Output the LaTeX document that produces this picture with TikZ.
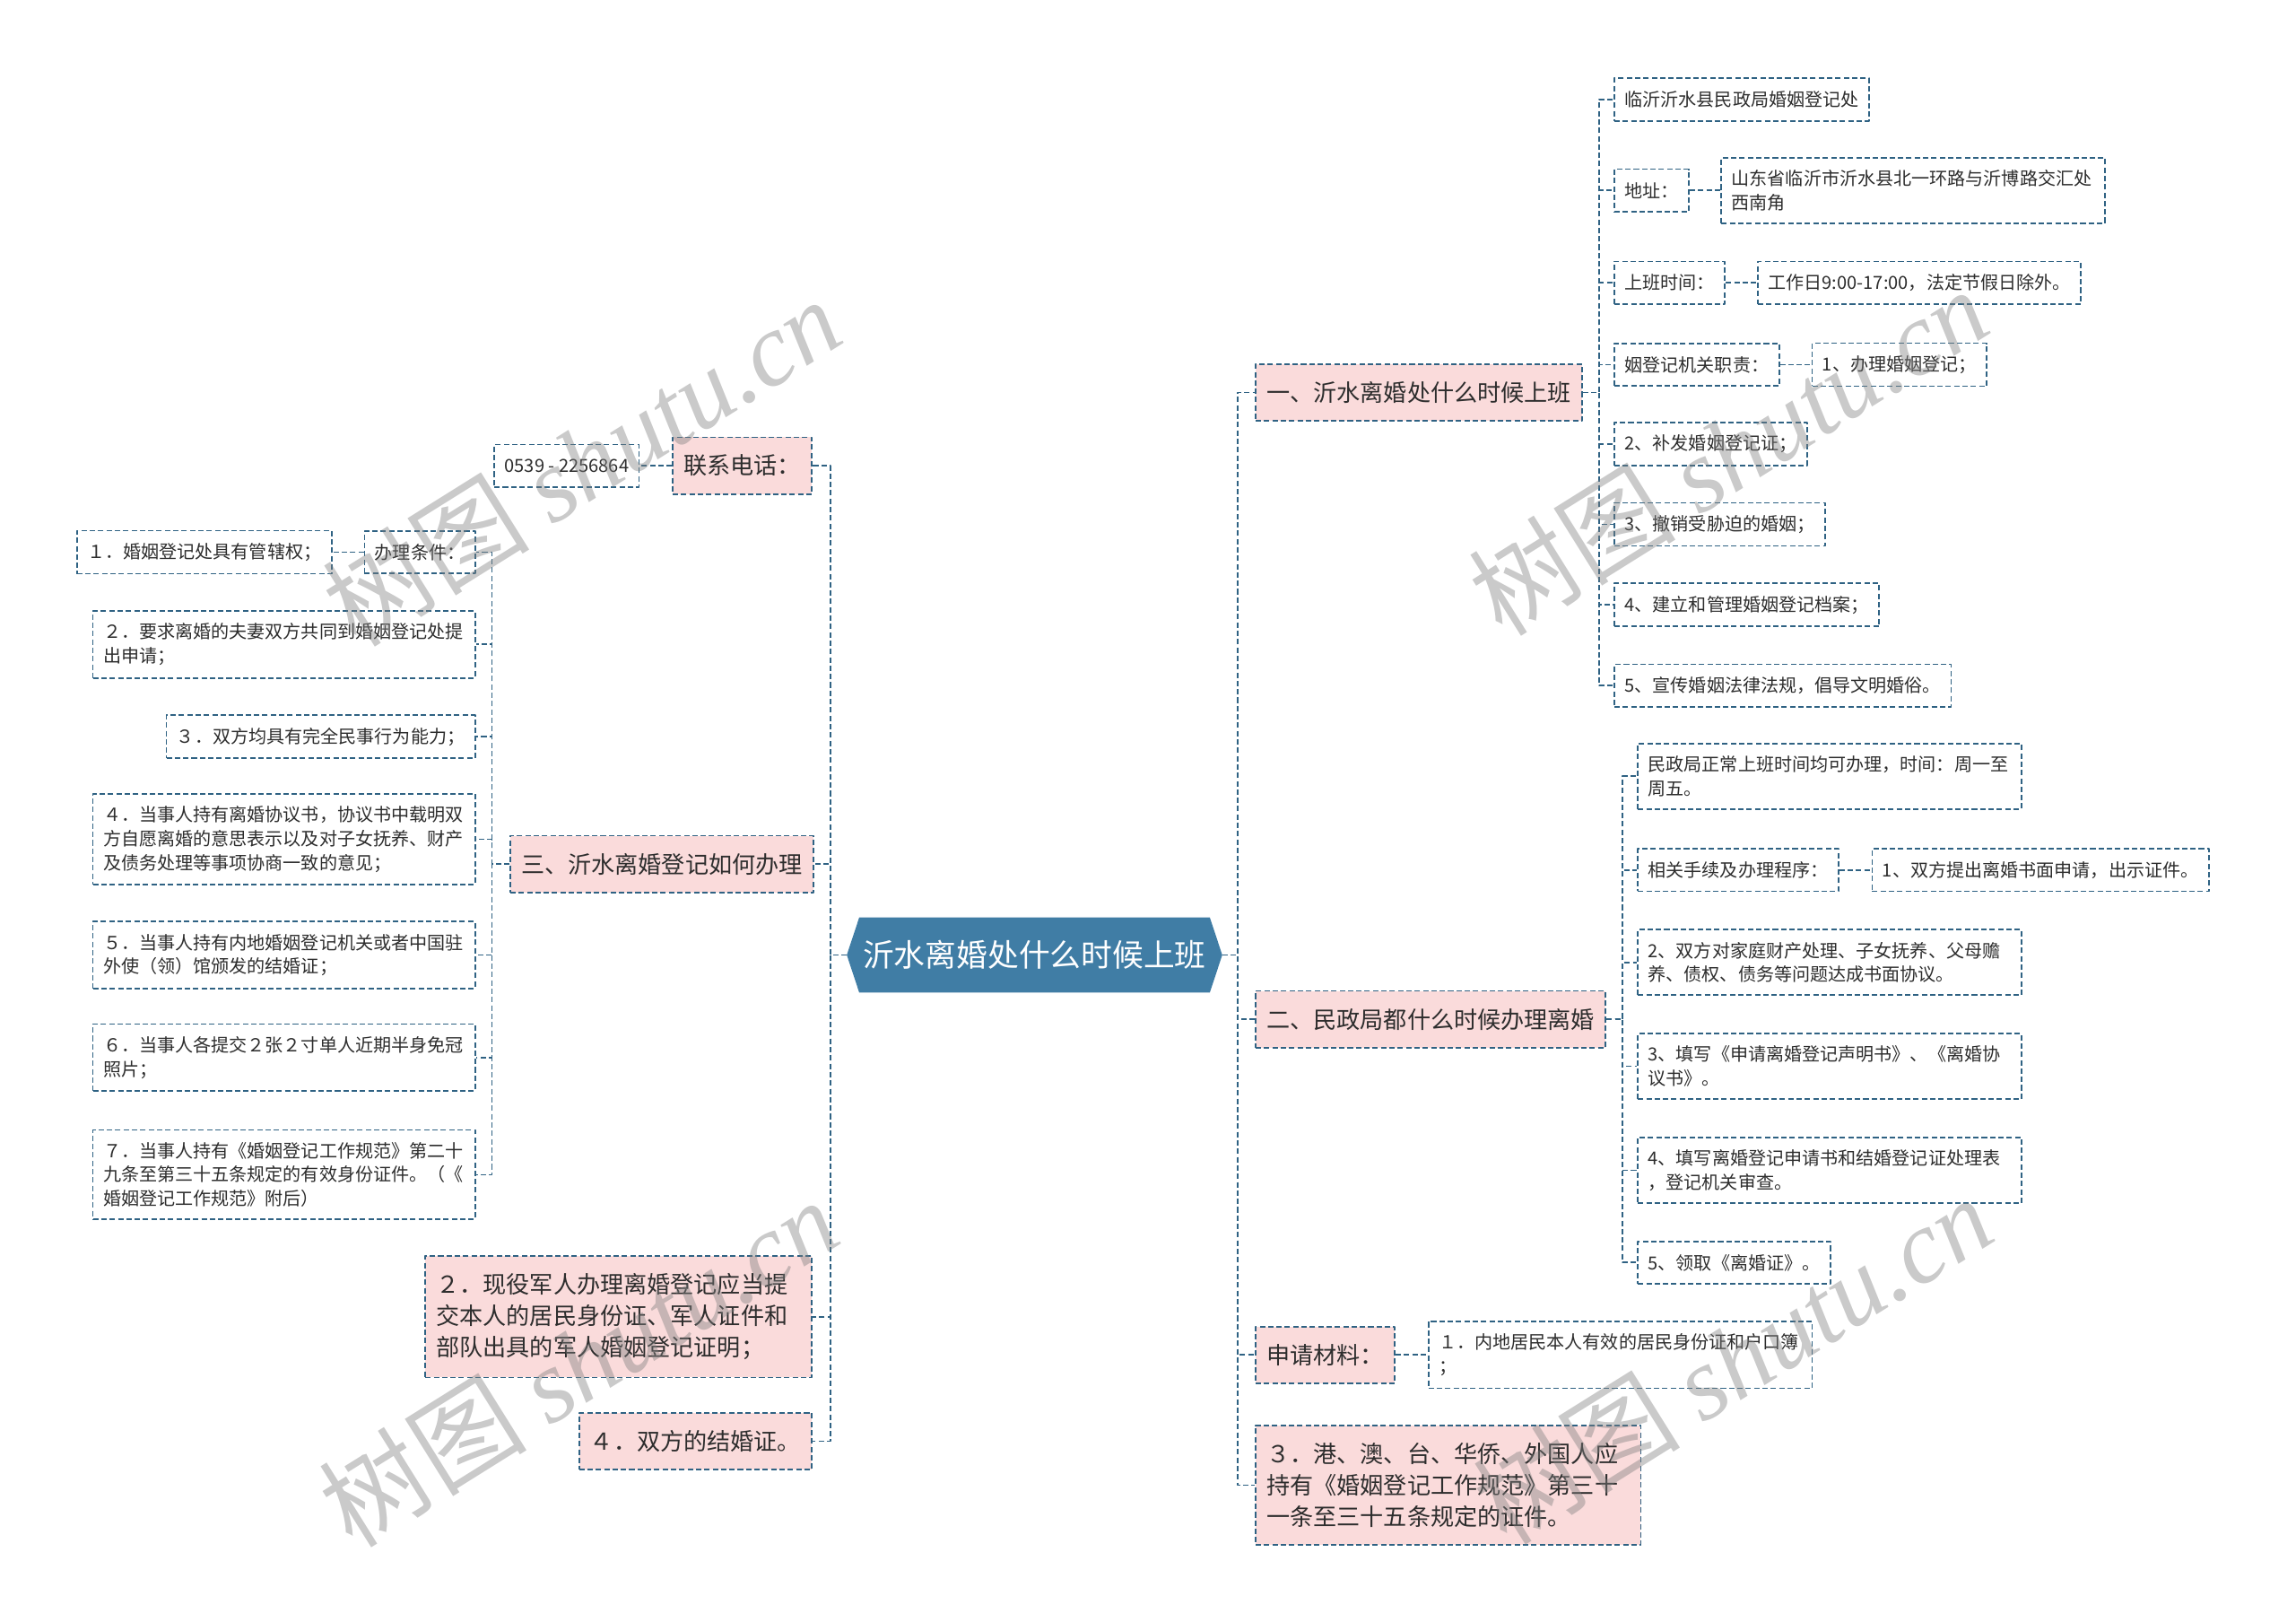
\documentclass[tikz,border=0pt]{standalone}
\usepackage{fontspec}
\setmainfont{Noto Sans CJK SC}
\newfontfamily\wmserif{Liberation Serif}
\usetikzlibrary{backgrounds}
\definecolor{linec}{RGB}{47,98,131}
\definecolor{rootc}{RGB}{64,125,165}
\definecolor{pinkc}{RGB}{250,219,219}
\definecolor{txtc}{RGB}{45,45,45}
\tikzset{
	box/.style={draw=linec, line width=1.1pt, dash pattern=on 3.7pt off 2pt, text=txtc, inner xsep=7pt, inner ysep=8.5pt, align=left},
	leaf/.style={box, font=\fontsize{12.3}{16.3}\selectfont, minimum height=29pt},
	topic/.style={box, fill=pinkc, font=\fontsize{16}{21.4}\selectfont, inner xsep=7.5pt, inner ysep=12pt, minimum height=38pt},
	link/.style={draw=linec, line width=1.1pt, dash pattern=on 3.7pt off 2pt},
	wmtext/.style={text=gray, opacity=0.42, rotate=32, font=\fontsize{71}{71}\selectfont},
}
\begin{document}
\begin{tikzpicture}[x=1pt, y=-1pt, line join=round]
\useasboundingbox (0,0) rectangle (1568,1107);
\node[text=white, font=\fontsize{21.3}{25}\selectfont, minimum width=256pt, minimum height=51pt, inner sep=0pt] (root) at (706.5,652) {沂水离婚处什么时候上班};
\begin{scope}[on background layer]
	\fill[rootc] (root.west) -- ([xshift=8.5pt]root.north west) -- ([xshift=-8.5pt]root.north east) -- (root.east) -- ([xshift=-8.5pt]root.south east) -- ([xshift=8.5pt]root.south west) -- cycle;
\end{scope}
\coordinate (sr) at (845,0);
\coordinate (s1) at (1092,0);
\coordinate (s2) at (1108,0);
\coordinate (sl) at (567,0);
\coordinate (s3) at (336,0);
			\node[topic, anchor=west] (r1) at (857,268) {一、沂水离婚处什么时候上班};
			\node[topic, anchor=west] (r2) at (857,696) {二、民政局都什么时候办理离婚};
			\node[topic, anchor=west] (r3) at (857,925) {申请材料：};
			\node[topic, anchor=west, text width=248pt] (r4) at (857,1014) {３．港、澳、台、华侨、外国人应\\持有《婚姻登记工作规范》第三十\\一条至三十五条规定的证件。};
			\node[leaf, anchor=west] (a1) at (1102,68) {临沂沂水县民政局婚姻登记处};
			\node[leaf, anchor=west] (a2) at (1102,130) {地址：};
			\node[leaf, anchor=west, text width=248pt] (a2x) at (1175,130) {山东省临沂市沂水县北一环路与沂博路交汇处\\西南角};
			\node[leaf, anchor=west] (a3) at (1102,193) {上班时间：};
			\node[leaf, anchor=west] (a3x) at (1200,193) {工作日9:00-17:00，法定节假日除外。};
			\node[leaf, anchor=west] (a4) at (1102,249) {姻登记机关职责：};
			\node[leaf, anchor=west] (a4x) at (1237,249) {1、办理婚姻登记；};
			\node[leaf, anchor=west] (a5) at (1102,303) {2、补发婚姻登记证；};
			\node[leaf, anchor=west] (a6) at (1102,358) {3、撤销受胁迫的婚姻；};
			\node[leaf, anchor=west] (a7) at (1102,413) {4、建立和管理婚姻登记档案；};
			\node[leaf, anchor=west] (a8) at (1102,468) {5、宣传婚姻法律法规，倡导文明婚俗。};
			\node[leaf, anchor=west, text width=248pt] (b1) at (1118,530) {民政局正常上班时间均可办理，时间：周一至\\周五。};
			\node[leaf, anchor=west] (b2) at (1118,594) {相关手续及办理程序：};
			\node[leaf, anchor=west] (b2x) at (1278,594) {1、双方提出离婚书面申请，出示证件。};
			\node[leaf, anchor=west, text width=248pt] (b3) at (1118,657) {2、双方对家庭财产处理、子女抚养、父母赡\\养、债权、债务等问题达成书面协议。};
			\node[leaf, anchor=west, text width=248pt] (b4) at (1118,728) {3、填写《申请离婚登记声明书》、《离婚协\\议书》。};
			\node[leaf, anchor=west, text width=248pt] (b5) at (1118,799) {4、填写离婚登记申请书和结婚登记证处理表\\，登记机关审查。};
			\node[leaf, anchor=west] (b6) at (1118,862) {5、领取《离婚证》。};
			\node[leaf, anchor=west, text width=248pt] (c1) at (975,925) {１．内地居民本人有效的居民身份证和户口簿\\；};
			\node[topic, anchor=east] (l1) at (555,318) {联系电话：};
			\node[leaf, anchor=east] (l1x) at (437,318) {0539 - 2256864};
			\node[topic, anchor=east] (l2) at (556,590) {三、沂水离婚登记如何办理};
			\node[topic, anchor=east, text width=249pt] (l3) at (555,899) {２．现役军人办理离婚登记应当提\\交本人的居民身份证、军人证件和\\部队出具的军人婚姻登记证明；};
			\node[topic, anchor=east] (l4) at (555,984) {４．双方的结婚证。};
			\node[leaf, anchor=east] (d1) at (325,377) {办理条件：};
			\node[leaf, anchor=east] (d1x) at (227,377) {１．婚姻登记处具有管辖权；};
			\node[leaf, anchor=east, text width=247pt] (d2) at (325,440) {２．要求离婚的夫妻双方共同到婚姻登记处提\\出申请；};
			\node[leaf, anchor=east] (d3) at (325,503) {３．双方均具有完全民事行为能力；};
			\node[leaf, anchor=east, text width=247pt] (d4) at (325,573) {４．当事人持有离婚协议书，协议书中载明双\\方自愿离婚的意思表示以及对子女抚养、财产\\及债务处理等事项协商一致的意见；};
			\node[leaf, anchor=east, text width=247pt] (d5) at (325,652) {５．当事人持有内地婚姻登记机关或者中国驻\\外使（领）馆颁发的结婚证；};
			\node[leaf, anchor=east, text width=247pt] (d6) at (325,722) {６．当事人各提交２张２寸单人近期半身免冠\\照片；};
			\node[leaf, anchor=east, text width=247pt] (d7) at (325,802) {７．当事人持有《婚姻登记工作规范》第二十\\九条至第三十五条规定的有效身份证件。（《\\婚姻登记工作规范》附后）};
\draw[link] (root.east) -- (root.east -| sr) |- (r1.west);
\draw[link] (root.east) -- (root.east -| sr) |- (r2.west);
\draw[link] (root.east) -- (root.east -| sr) |- (r3.west);
\draw[link] (root.east) -- (root.east -| sr) |- (r4.west);
\draw[link] (root.west) -- (root.west -| sl) |- (l1.east);
\draw[link] (root.west) -- (root.west -| sl) |- (l2.east);
\draw[link] (root.west) -- (root.west -| sl) |- (l3.east);
\draw[link] (root.west) -- (root.west -| sl) |- (l4.east);
\draw[link] (r1.east) -- (r1.east -| s1) |- (a1.west);
\draw[link] (r1.east) -- (r1.east -| s1) |- (a2.west);
\draw[link] (r1.east) -- (r1.east -| s1) |- (a3.west);
\draw[link] (r1.east) -- (r1.east -| s1) |- (a4.west);
\draw[link] (r1.east) -- (r1.east -| s1) |- (a5.west);
\draw[link] (r1.east) -- (r1.east -| s1) |- (a6.west);
\draw[link] (r1.east) -- (r1.east -| s1) |- (a7.west);
\draw[link] (r1.east) -- (r1.east -| s1) |- (a8.west);
\draw[link] (a2.east) -- (a2x.west);
\draw[link] (a3.east) -- (a3x.west);
\draw[link] (a4.east) -- (a4x.west);
\draw[link] (r2.east) -- (r2.east -| s2) |- (b1.west);
\draw[link] (r2.east) -- (r2.east -| s2) |- (b2.west);
\draw[link] (r2.east) -- (r2.east -| s2) |- (b3.west);
\draw[link] (r2.east) -- (r2.east -| s2) |- (b4.west);
\draw[link] (r2.east) -- (r2.east -| s2) |- (b5.west);
\draw[link] (r2.east) -- (r2.east -| s2) |- (b6.west);
\draw[link] (b2.east) -- (b2x.west);
\draw[link] (r3.east) -- (c1.west);
\draw[link] (l1.west) -- (l1x.east);
\draw[link] (l2.west) -- (l2.west -| s3) |- (d1.east);
\draw[link] (l2.west) -- (l2.west -| s3) |- (d2.east);
\draw[link] (l2.west) -- (l2.west -| s3) |- (d3.east);
\draw[link] (l2.west) -- (l2.west -| s3) |- (d4.east);
\draw[link] (l2.west) -- (l2.west -| s3) |- (d5.east);
\draw[link] (l2.west) -- (l2.west -| s3) |- (d6.east);
\draw[link] (l2.west) -- (l2.west -| s3) |- (d7.east);
\draw[link] (d1.west) -- (d1x.east);
			\node[wmtext] (wm1) at (397,315) {树图 {\wmserif\itshape shutu.cn}};
			\node[wmtext] (wm2) at (1180,308) {树图 {\wmserif\itshape shutu.cn}};
			\node[wmtext] (wm3) at (395,930) {树图 {\wmserif\itshape shutu.cn}};
			\node[wmtext] (wm4) at (1183,928) {树图 {\wmserif\itshape shutu.cn}};
		\end{tikzpicture}
\end{document}
